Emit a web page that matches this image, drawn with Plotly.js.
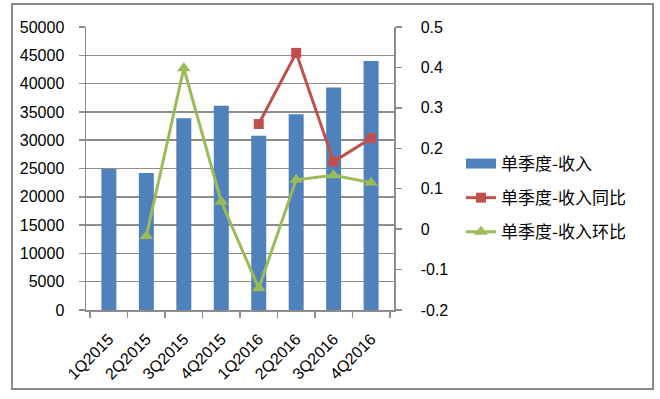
<!DOCTYPE html>
<html>
<head>
<meta charset="utf-8">
<script src="https://cdn.plot.ly/plotly-3.0.1.min.js"></script>
<style>
html,body{margin:0;padding:0;background:#fff;}
#chart{width:660px;height:399px;}
</style>
</head>
<body>
<div id="chart"></div>
<script>
// ---- data ----
var categories = ["1Q2015","2Q2015","3Q2015","4Q2015","1Q2016","2Q2016","3Q2016","4Q2016"];
var revenue = [24900, 24200, 33900, 36100, 30800, 34600, 39300, 44000];
var yoy = [null, null, null, null, 0.26, 0.436, 0.167, 0.225];
var qoq = [null, -0.017, 0.398, 0.068, -0.146, 0.122, 0.133, 0.115];
var seriesNames = ["单季度-收入", "单季度-收入同比", "单季度-收入环比"];
var rightTickVals = [-0.2, -0.1, 0, 0.1, 0.2, 0.3, 0.4, 0.5];
var rightTickText = ["-0.2", "-0.1", "0", "0.1", "0.2", "0.3", "0.4", "0.5"];

// ---- layout constants (pixels) ----
var W = 660, H = 399;
var L = 86, R = 394, T = 27, B = 310;
var pw = R - L, ph = B - T;
function px2x(p){ return (p - L) / pw; }
function px2y(p){ return (B - p) / ph; }

var grey = "#8c8c8c";
var tickFont = {family: "Liberation Sans, Arial, sans-serif", size: 16, color: "#000"};

var traces = [
  {
    type: "bar", x: categories, y: revenue, name: seriesNames[0],
    marker: {color: "#4f81bd"}, showlegend: false, legendgroup: "a"
  },
  {
    type: "scatter", mode: "lines", x: categories, y: categories.map(function(){return null;}),
    name: seriesNames[0], line: {color: "#4f81bd", width: 10}, legendgroup: "a", hoverinfo: "skip"
  },
  {
    type: "scatter", mode: "lines+markers", x: categories, y: yoy, yaxis: "y2",
    name: seriesNames[1], line: {color: "#c0504d", width: 3},
    marker: {symbol: "square", size: 10, color: "#c0504d"}, legendgroup: "b"
  },
  {
    type: "scatter", mode: "lines+markers", x: categories, y: qoq, yaxis: "y2",
    name: seriesNames[2], line: {color: "#9bbb59", width: 3},
    marker: {symbol: "triangle-up", size: 12, color: "#9bbb59"}, legendgroup: "c"
  }
];

var layout = {
  width: W, height: H,
  margin: {l: L, r: W - R, t: T, b: H - B, pad: 0},
  paper_bgcolor: "#fff", plot_bgcolor: "#fff",
  bargap: 0.6,
  showlegend: true,
  legend: {
    x: px2x(461), y: px2y(146), xanchor: "left", yanchor: "top",
    font: {family: "Noto Sans CJK SC, sans-serif", size: 17, color: "#000"},
    traceorder: "grouped", tracegroupgap: 9, bgcolor: "rgba(0,0,0,0)"
  },
  xaxis: {
    type: "category", tickangle: -45, tickfont: tickFont,
    ticks: "outside", tickson: "boundaries", ticklen: 6, tickcolor: grey, tickwidth: 1.5,
    showline: true, linecolor: grey, linewidth: 1.5, showgrid: false, zeroline: false,
    ticklabelstandoff: 12
  },
  yaxis: {
    range: [0, 50000], dtick: 5000, tick0: 0, tickformat: "d", tickfont: tickFont,
    ticks: "outside", ticklen: 6, tickcolor: grey, tickwidth: 1.5,
    showline: true, linecolor: grey, linewidth: 1.5,
    showgrid: true, gridcolor: grey, gridwidth: 1.5, zeroline: false,
    ticklabelstandoff: 11
  },
  yaxis2: {
    overlaying: "y", side: "right", range: [-0.2, 0.5],
    tickmode: "array", tickvals: rightTickVals, ticktext: rightTickText, tickfont: tickFont,
    ticks: "outside", ticklen: 6, tickcolor: grey, tickwidth: 1.5,
    showline: true, linecolor: grey, linewidth: 1.5, showgrid: false, zeroline: false,
    ticklabelstandoff: 16
  },
  shapes: [
    {
      type: "rect", xref: "paper", yref: "paper",
      x0: px2x(12), x1: px2x(653), y0: px2y(389), y1: px2y(4),
      line: {color: "#8a8a8a", width: 2}, layer: "below"
    }
  ]
};

Plotly.newPlot("chart", traces, layout, {displayModeBar: false, staticPlot: true});
</script>
</body>
</html>
